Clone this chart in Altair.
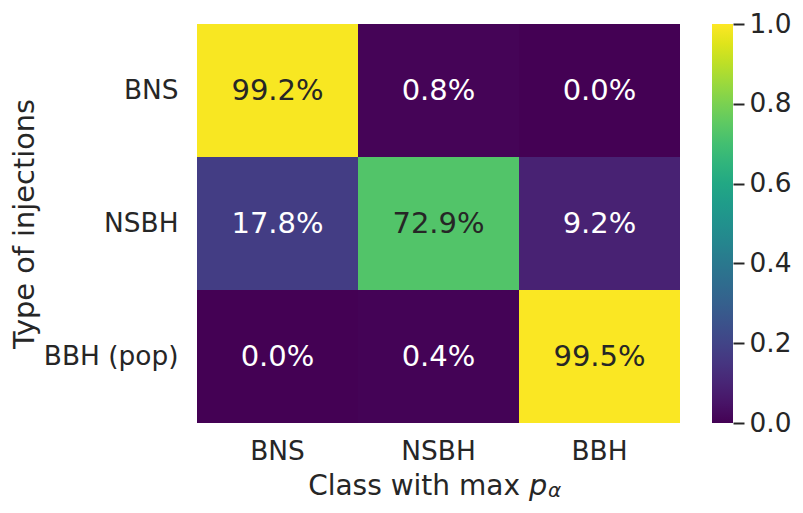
import altair as alt
import pandas as pd

rows = ["BNS", "NSBH", "BBH (pop)"]
cols = ["BNS", "NSBH", "BBH"]
values = [
    [0.992, 0.008, 0.000],
    [0.178, 0.729, 0.092],
    [0.000, 0.004, 0.995],
]
cbar_ticks = [0.0, 0.2, 0.4, 0.6, 0.8, 1.0]

records = []
for i, r in enumerate(rows):
    for j, c in enumerate(cols):
        records.append({"true": r, "pred": c, "value": values[i][j]})
df = pd.DataFrame(records)

FONT = "DejaVu Sans"
DARK = "#262626"
W = 483
H = 399

xenc = alt.X("pred:N", sort=cols,
             scale=alt.Scale(paddingInner=0, paddingOuter=0),
             axis=alt.Axis(title=None, labelAngle=0, ticks=False, domain=False,
                           labelPadding=15, labelFontSize=26.4, labelFont=FONT,
                           labelColor=DARK))
yenc = alt.Y("true:N", sort=rows,
             scale=alt.Scale(paddingInner=0, paddingOuter=0),
             axis=alt.Axis(title="Type of injections", ticks=False, domain=False,
                           labelPadding=19, labelFontSize=26.4, labelFont=FONT,
                           labelColor=DARK, titleFontSize=28.8, titleFont=FONT,
                           titleColor=DARK, titleFontWeight="normal",
                           titlePadding=4))

base = alt.Chart(df)
cscale = alt.Scale(scheme="viridis", domain=[0, 1])

heat = base.mark_rect().encode(
    x=xenc,
    y=yenc,
    color=alt.Color("value:Q", scale=cscale,
                    legend=alt.Legend(orient="none", legendX=515, legendY=0,
                                      gradientLength=H, gradientThickness=21,
                                      gradientStrokeWidth=0, title=None,
                                      labelOpacity=0, padding=0,
                                      direction="vertical")),
)

annot = base.mark_text(fontSize=29, font=FONT).encode(
    x=alt.X("pred:N", sort=cols),
    y=alt.Y("true:N", sort=rows),
    text=alt.Text("value:Q", format=".1%"),
    color=alt.condition(alt.datum.value > 0.5, alt.value(DARK), alt.value("#ffffff")),
)

cbar_axis = base.mark_point(opacity=0).encode(
    x=alt.X("pred:N", sort=cols),
    y=alt.Y("value:Q", scale=alt.Scale(domain=[0, 1], nice=False, zero=False),
            axis=alt.Axis(orient="right", offset=53, values=cbar_ticks, format=".1f",
                          tickSize=11, tickWidth=2, tickColor=DARK, domain=False,
                          grid=False, title=None, labelPadding=5,
                          labelFontSize=26.4, labelFont=FONT, labelColor=DARK)),
)

tdf = pd.DataFrame({"a": [0]})
t1 = alt.Chart(tdf).mark_text(fontSize=28, font=FONT, align="right",
                              baseline="alphabetic", color=DARK).encode(
    x=alt.value(323), y=alt.value(471), text=alt.value("Class with max"))
t2 = alt.Chart(tdf).mark_text(fontSize=28.8, font=FONT, align="left", fontStyle="italic",
                              baseline="alphabetic", color=DARK).encode(
    x=alt.value(332), y=alt.value(471), text=alt.value("p"))
t3 = alt.Chart(tdf).mark_text(fontSize=20, font=FONT, align="left", fontStyle="italic",
                              baseline="alphabetic", color=DARK).encode(
    x=alt.value(351), y=alt.value(473), text=alt.value("α"))

main = alt.layer(heat, annot, t1, t2, t3)

chart = alt.layer(main, cbar_axis).resolve_scale(
    y="independent"
).properties(
    width=W, height=H,
    padding={"left": 189, "top": 16, "right": 113, "bottom": 82},
    autosize=alt.AutoSizeParams(type="none"),
).configure_view(stroke=None)

chart.save("out.html", embed_options={"renderer": "svg", "actions": False})
